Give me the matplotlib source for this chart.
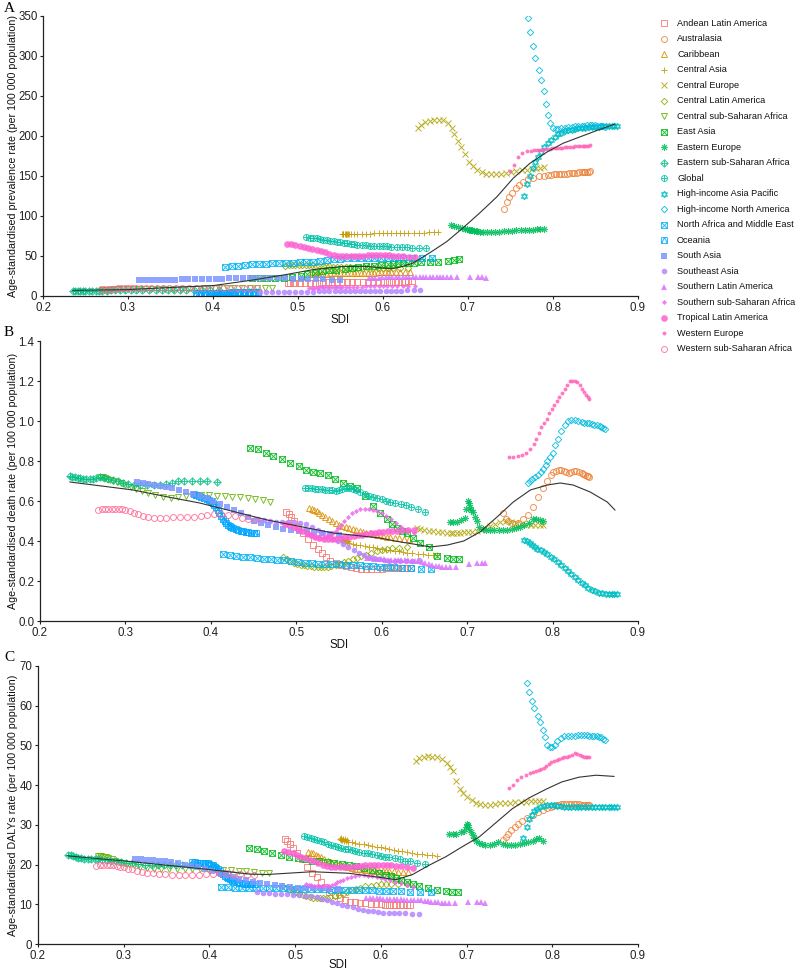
import numpy as np
import matplotlib
matplotlib.use("Agg")
import matplotlib.pyplot as plt
from matplotlib.path import Path
from matplotlib.lines import Line2D

plt.rcParams['font.family'] = ['Liberation Sans', 'DejaVu Sans']

# ---------------------------------------------------------------------------
# Data (SDI and rates, 1990-2019)
# ---------------------------------------------------------------------------
regions = ["Andean Latin America", "Australasia", "Caribbean", "Central Asia",
           "Central Europe", "Central Latin America", "Central sub-Saharan Africa",
           "East Asia", "Eastern Europe", "Eastern sub-Saharan Africa", "Global",
           "High-income Asia Pacific", "High-income North America",
           "North Africa and Middle East", "Oceania", "South Asia", "Southeast Asia",
           "Southern Latin America", "Southern sub-Saharan Africa",
           "Tropical Latin America", "Western Europe", "Western sub-Saharan Africa"]

sdi_andean = [0.488, 0.491, 0.494, 0.497, 0.502, 0.508, 0.514, 0.520, 0.525, 0.530,
              0.535, 0.540, 0.546, 0.552, 0.558, 0.564, 0.570, 0.576, 0.582, 0.588,
              0.594, 0.600, 0.605, 0.610, 0.614, 0.618, 0.622, 0.626, 0.630, 0.634]
prev_andean = [16, 16, 16, 16.2, 16.3, 16.5, 16.6, 16.7, 16.8, 17, 17, 17.2, 17.3, 17.4,
               17.5, 17.5, 17.6, 17.6, 17.7, 17.8, 17.8, 17.9, 17.9, 18, 18, 18, 18.1,
               18.1, 18.2, 18.2]
death_andean = [0.545, 0.535, 0.52, 0.50, 0.47, 0.44, 0.41, 0.38, 0.36, 0.34, 0.32, 0.30,
                0.29, 0.28, 0.275, 0.27, 0.265, 0.262, 0.26, 0.26, 0.262, 0.262, 0.263,
                0.263, 0.264, 0.265, 0.265, 0.266, 0.266, 0.265]
daly_andean = [26.5, 26, 25.2, 24.2, 23, 21.5, 19.5, 18, 16.8, 15.5, 14.3, 13.2, 12.4,
               11.6, 11, 10.7, 10.5, 10.3, 10.2, 10.1, 10, 10, 9.9, 9.9, 9.8, 9.8, 9.8,
               9.8, 9.8, 9.8]

sdi_austral = [0.742, 0.746, 0.748, 0.752, 0.756, 0.760, 0.765, 0.771, 0.777, 0.783,
               0.789, 0.794, 0.798, 0.801, 0.804, 0.807, 0.810, 0.813, 0.816, 0.819,
               0.822, 0.825, 0.828, 0.831, 0.834, 0.836, 0.838, 0.840, 0.842, 0.843]
prev_austral = [109, 118, 124, 129, 135, 139, 143, 146, 148, 150, 150.5, 151, 151.5, 152,
                152, 152.5, 152.5, 153, 153, 153.5, 153.5, 154, 154, 154.5, 154.5, 155,
                155, 155.5, 155.5, 156]
death_austral = [0.54, 0.51, 0.50, 0.49, 0.485, 0.49, 0.51, 0.53, 0.57, 0.62, 0.665, 0.70,
                 0.73, 0.745, 0.75, 0.755, 0.755, 0.75, 0.745, 0.74, 0.745, 0.75, 0.75,
                 0.745, 0.74, 0.735, 0.73, 0.725, 0.725, 0.72]
daly_austral = [26.2, 27, 27.8, 28.6, 29.4, 30.2, 31, 31.8, 32.5, 33.2, 33.8, 34.3, 34.6,
                34.8, 35, 35.1, 35.2, 35.2, 35.3, 35.3, 35.3, 35.3, 35.2, 35.2, 35.1,
                35.1, 35, 35, 35, 35]

sdi_carib = [0.515, 0.518, 0.521, 0.524, 0.527, 0.530, 0.534, 0.538, 0.542, 0.546,
             0.550, 0.554, 0.558, 0.562, 0.566, 0.570, 0.574, 0.578, 0.582, 0.586,
             0.590, 0.594, 0.598, 0.602, 0.606, 0.610, 0.615, 0.620, 0.626, 0.632]
prev_carib = [27, 27.2, 27.4, 27.6, 27.8, 28, 28, 28.2, 28.3, 28.4, 28.5, 28.6, 28.7, 28.8,
              28.9, 29, 29, 29.1, 29.2, 29.3, 29.3, 29.4, 29.4, 29.5, 29.5, 29.6, 29.6,
              29.7, 29.7, 29.8]
death_carib = [0.565, 0.56, 0.555, 0.55, 0.54, 0.53, 0.52, 0.51, 0.50, 0.49, 0.48, 0.475,
               0.47, 0.465, 0.46, 0.455, 0.45, 0.445, 0.44, 0.44, 0.435, 0.43, 0.43, 0.425,
               0.42, 0.42, 0.415, 0.415, 0.41, 0.41]
daly_carib = [23.2, 23, 22.8, 22.5, 22.2, 21.8, 21.4, 21, 20.6, 20.3, 20, 19.8, 19.6, 19.4,
              19.2, 19, 18.9, 18.8, 18.7, 18.6, 18.5, 18.5, 18.4, 18.4, 18.3, 18.3, 18.3,
              18.2, 18.2, 18.2]

sdi_casia = [0.560, 0.558, 0.556, 0.553, 0.552, 0.553, 0.555, 0.557, 0.559, 0.562,
             0.566, 0.570, 0.575, 0.580, 0.585, 0.590, 0.595, 0.600, 0.605, 0.610,
             0.615, 0.620, 0.625, 0.630, 0.636, 0.642, 0.648, 0.654, 0.660, 0.665]
prev_casia = [77, 77, 77, 77, 77, 77, 77, 77, 77.2, 77.4, 77.5, 77.7, 77.8, 78, 78.1, 78.2,
              78.3, 78.4, 78.5, 78.6, 78.7, 78.8, 78.9, 79, 79.1, 79.2, 79.3, 79.4, 79.5,
              79.6]
death_casia = [0.40, 0.40, 0.405, 0.405, 0.405, 0.405, 0.40, 0.40, 0.395, 0.39, 0.385,
               0.38, 0.38, 0.375, 0.37, 0.37, 0.365, 0.36, 0.355, 0.355, 0.35, 0.35, 0.345,
               0.34, 0.34, 0.335, 0.335, 0.33, 0.33, 0.33]
daly_casia = [26.2, 26.4, 26.5, 26.6, 26.4, 26.3, 26.2, 26, 25.9, 25.8, 25.6, 25.5, 25.3,
              25.1, 24.9, 24.7, 24.5, 24.3, 24.1, 23.9, 23.7, 23.5, 23.3, 23.1, 22.9, 22.7,
              22.6, 22.4, 22.3, 22.2]

sdi_ceur = [0.641, 0.645, 0.650, 0.655, 0.660, 0.666, 0.671, 0.677, 0.681, 0.684,
            0.688, 0.692, 0.696, 0.701, 0.706, 0.711, 0.716, 0.721, 0.727, 0.733,
            0.739, 0.745, 0.751, 0.757, 0.763, 0.769, 0.775, 0.780, 0.785, 0.789]
prev_ceur = [210, 214, 217, 219, 220, 220, 220, 216, 210, 203, 194, 186, 177, 168, 162,
             158, 155, 153, 152, 152, 153, 154, 155, 156, 157, 158, 159, 160, 160, 161]
death_ceur = [0.465, 0.46, 0.455, 0.45, 0.45, 0.445, 0.445, 0.44, 0.44, 0.44, 0.44, 0.44,
              0.445, 0.445, 0.445, 0.45, 0.455, 0.465, 0.475, 0.485, 0.495, 0.50, 0.495,
              0.49, 0.485, 0.48, 0.48, 0.48, 0.48, 0.48]
daly_ceur = [46.2, 46.8, 47.2, 47.3, 47.2, 47.1, 46.7, 45.5, 44.5, 43.5, 41, 39, 38, 37,
             36.3, 35.6, 35.2, 35, 35, 35.2, 35.4, 35.5, 35.6, 35.7, 35.8, 35.8, 35.9, 35.9,
             36, 36]

sdi_clat = [0.485, 0.489, 0.493, 0.497, 0.501, 0.505, 0.509, 0.513, 0.517, 0.521,
            0.525, 0.529, 0.533, 0.537, 0.541, 0.546, 0.551, 0.556, 0.561, 0.566,
            0.571, 0.576, 0.582, 0.588, 0.594, 0.600, 0.606, 0.612, 0.620, 0.630]
prev_clat = [38, 38.5, 39, 39, 39, 39, 38.8, 38.5, 38.2, 38, 37.8, 37.5, 37.2, 37, 36.8,
             36.5, 36.2, 36, 35.8, 35.6, 35.4, 35.2, 35, 35, 34.8, 34.8, 34.8, 34.8, 34.7,
             34.7]
death_clat = [0.32, 0.31, 0.30, 0.29, 0.285, 0.28, 0.278, 0.276, 0.274, 0.272, 0.27, 0.27,
              0.27, 0.272, 0.275, 0.28, 0.286, 0.293, 0.30, 0.308, 0.316, 0.324, 0.332,
              0.34, 0.348, 0.355, 0.36, 0.364, 0.367, 0.37]
daly_clat = [14.5, 14.1, 13.7, 13.3, 13, 12.7, 12.4, 12.1, 11.8, 11.6, 11.5, 11.5, 11.5,
             11.6, 11.8, 12, 12.3, 12.7, 13.1, 13.5, 13.9, 14.2, 14.5, 14.7, 14.9, 15, 15.1,
             15.1, 15.1, 15.1]

sdi_cssa = [0.270, 0.272, 0.274, 0.276, 0.279, 0.282, 0.286, 0.290, 0.295, 0.300,
            0.306, 0.312, 0.319, 0.327, 0.335, 0.344, 0.353, 0.362, 0.371, 0.380,
            0.389, 0.398, 0.407, 0.416, 0.425, 0.434, 0.443, 0.452, 0.461, 0.469]
prev_cssa = [8, 8, 8, 8, 8.1, 8.2, 8.2, 8.3, 8.4, 8.5, 8.6, 8.7, 8.8, 8.9, 9, 9, 9.1, 9.2,
             9.2, 9.3, 9.4, 9.4, 9.5, 9.6, 9.6, 9.7, 9.8, 9.9, 10, 10]
death_cssa = [0.72, 0.72, 0.72, 0.715, 0.71, 0.705, 0.70, 0.695, 0.69, 0.68, 0.67, 0.66,
              0.65, 0.64, 0.63, 0.62, 0.615, 0.62, 0.625, 0.63, 0.63, 0.63, 0.625, 0.625,
              0.62, 0.62, 0.615, 0.61, 0.605, 0.595]
daly_cssa = [22.2, 22.2, 22.1, 22, 21.8, 21.6, 21.3, 21, 20.7, 20.4, 20.1, 19.8, 19.5,
             19.2, 19, 18.8, 18.8, 18.9, 19, 19, 19, 18.9, 18.8, 18.7, 18.6, 18.5, 18.4,
             18.2, 18, 17.8]

sdi_easia = [0.446, 0.455, 0.464, 0.473, 0.483, 0.493, 0.503, 0.511, 0.520, 0.528,
             0.537, 0.545, 0.555, 0.563, 0.571, 0.580, 0.590, 0.598, 0.606, 0.612,
             0.618, 0.624, 0.630, 0.637, 0.645, 0.655, 0.665, 0.676, 0.683, 0.690]
prev_easia = [22.5, 22.5, 22.5, 22.5, 23, 23.5, 25, 27, 29, 31, 32, 33, 34, 35, 36, 37, 38,
              39, 40, 40.5, 41, 41, 41.5, 41.5, 42, 42, 42.5, 44, 45, 46]
death_easia = [0.865, 0.86, 0.84, 0.825, 0.81, 0.79, 0.775, 0.755, 0.745, 0.74, 0.73,
               0.71, 0.69, 0.675, 0.665, 0.625, 0.575, 0.54, 0.51, 0.485, 0.465, 0.45,
               0.44, 0.415, 0.39, 0.37, 0.325, 0.315, 0.31, 0.31]
daly_easia = [24.2, 23.8, 23.4, 23, 22.5, 22, 21.6, 21.3, 21, 20.8, 20.6, 20.4, 20.2, 20,
              19.6, 19.2, 18.6, 18, 17.4, 17, 16.5, 16, 15.6, 15.2, 14.7, 14.2, 13.7, 13.3,
              13.1, 13]

sdi_eeur = [0.680, 0.684, 0.688, 0.693, 0.697, 0.699, 0.701, 0.702, 0.703, 0.705,
            0.707, 0.709, 0.711, 0.714, 0.718, 0.722, 0.727, 0.732, 0.737, 0.742,
            0.747, 0.752, 0.757, 0.762, 0.767, 0.772, 0.777, 0.781, 0.785, 0.789]
prev_eeur = [89, 87, 86, 85, 84, 84, 83, 83, 82, 82, 81.5, 81, 81, 80.5, 80, 80, 80, 80,
             80.5, 81, 81, 81.5, 82, 82, 82.5, 83, 83, 83.5, 84, 84]
death_eeur = [0.495, 0.495, 0.495, 0.505, 0.515, 0.56, 0.60, 0.59, 0.57, 0.555, 0.545,
              0.52, 0.50, 0.47, 0.46, 0.455, 0.455, 0.455, 0.455, 0.455, 0.455, 0.46,
              0.465, 0.47, 0.48, 0.49, 0.51, 0.51, 0.505, 0.50]
daly_eeur = [27.8, 27.8, 27.8, 28.2, 28.5, 29.5, 30.2, 30, 29, 28.3, 27.5, 26.8, 26, 25.5,
             25.2, 25, 25, 25.3, 25.8, 25.2, 25, 25, 25, 25.2, 25.5, 25.8, 26, 26.5, 26.7,
             26]

sdi_essa = [0.235, 0.238, 0.241, 0.244, 0.247, 0.250, 0.254, 0.258, 0.262, 0.266,
            0.270, 0.275, 0.280, 0.285, 0.291, 0.297, 0.303, 0.310, 0.317, 0.325,
            0.333, 0.340, 0.347, 0.354, 0.361, 0.368, 0.378, 0.387, 0.396, 0.407]
prev_essa = [6.5, 6.5, 6.5, 6.6, 6.6, 6.6, 6.7, 6.7, 6.7, 6.8, 6.8, 6.8, 6.9, 6.9, 7, 7, 7,
             7.1, 7.1, 7.2, 7.2, 7.3, 7.3, 7.4, 7.4, 7.5, 7.5, 7.6, 7.6, 7.7]
death_essa = [0.725, 0.72, 0.72, 0.715, 0.715, 0.71, 0.71, 0.71, 0.71, 0.715, 0.72, 0.715,
              0.71, 0.705, 0.70, 0.69, 0.685, 0.68, 0.68, 0.68, 0.678, 0.68, 0.685, 0.69,
              0.70, 0.70, 0.70, 0.70, 0.70, 0.695]
daly_essa = [22.5, 22.3, 22.1, 21.9, 21.7, 21.6, 21.5, 21.4, 21.3, 21.3, 21.3, 21.2, 21.1,
             21, 20.9, 20.7, 20.5, 20.3, 20.1, 20, 19.9, 19.8, 19.8, 19.8, 19.8, 19.8, 19.8,
             19.8, 19.7, 19.6]

sdi_global = [0.510, 0.514, 0.518, 0.522, 0.526, 0.530, 0.534, 0.538, 0.542, 0.546,
              0.550, 0.554, 0.558, 0.562, 0.566, 0.570, 0.575, 0.580, 0.585, 0.590,
              0.595, 0.600, 0.605, 0.610, 0.616, 0.622, 0.628, 0.634, 0.642, 0.651]
prev_global = [73.5, 73, 72.5, 72, 71.3, 70.6, 70, 69.3, 68.6, 68, 67.3, 66.6, 66, 65.3,
               64.7, 64.2, 63.8, 63.4, 63, 62.7, 62.4, 62.2, 62, 61.7, 61.4, 61.1, 60.8,
               60.5, 60.2, 60]
death_global = [0.665, 0.665, 0.665, 0.66, 0.66, 0.66, 0.655, 0.655, 0.655, 0.65, 0.655,
                0.66, 0.665, 0.665, 0.66, 0.655, 0.645, 0.635, 0.625, 0.62, 0.615, 0.61,
                0.60, 0.595, 0.59, 0.585, 0.58, 0.57, 0.56, 0.545]
daly_global = [27.2, 27, 26.8, 26.5, 26.2, 25.9, 25.6, 25.3, 25, 24.7, 24.4, 24.2, 24,
               23.8, 23.6, 23.4, 23.2, 23, 22.8, 22.6, 22.4, 22.2, 22, 21.8, 21.6, 21.3,
               21, 20.8, 20.5, 20.2]

sdi_hiap = [0.766, 0.770, 0.773, 0.776, 0.779, 0.782, 0.786, 0.790, 0.794, 0.798,
            0.802, 0.806, 0.810, 0.814, 0.818, 0.822, 0.826, 0.830, 0.834, 0.838,
            0.842, 0.846, 0.850, 0.854, 0.858, 0.862, 0.866, 0.869, 0.872, 0.875]
prev_hiap = [125, 140, 150, 160, 168, 174, 180, 186, 191, 195, 199, 202, 204, 206, 207,
             208, 209, 209.5, 210, 210.5, 211, 211, 211.5, 211.5, 212, 212, 212, 212, 212,
             212]
death_hiap = [0.405, 0.40, 0.39, 0.38, 0.37, 0.36, 0.355, 0.345, 0.335, 0.322, 0.31,
              0.295, 0.28, 0.265, 0.25, 0.235, 0.22, 0.205, 0.19, 0.178, 0.165, 0.155,
              0.148, 0.142, 0.138, 0.135, 0.133, 0.133, 0.135, 0.137]
daly_hiap = [26.8, 29.5, 31.5, 32.5, 33.5, 34, 34.5, 34.8, 35, 35, 35, 34.8, 34.7, 34.6,
             34.5, 34.5, 34.5, 34.4, 34.4, 34.4, 34.4, 34.4, 34.4, 34.5, 34.5, 34.5, 34.5,
             34.6, 34.6, 34.6]

sdi_hina = [0.771, 0.773, 0.776, 0.779, 0.783, 0.786, 0.789, 0.792, 0.794, 0.797,
            0.800, 0.803, 0.806, 0.810, 0.814, 0.818, 0.822, 0.826, 0.830, 0.834,
            0.837, 0.840, 0.843, 0.846, 0.849, 0.852, 0.855, 0.857, 0.859, 0.861]
prev_hina = [347, 330, 313, 297, 282, 270, 256, 240, 226, 216, 210, 209, 209, 210, 210,
             211, 211, 212, 212, 213, 213, 214, 214, 214, 214, 213, 213, 212, 212, 211]
death_hina = [0.69, 0.70, 0.71, 0.72, 0.73, 0.745, 0.76, 0.78, 0.80, 0.82, 0.84, 0.88,
              0.91, 0.95, 0.98, 1.0, 1.005, 1.005, 1.0, 0.995, 0.99, 0.99, 0.99, 0.985,
              0.98, 0.98, 0.975, 0.97, 0.965, 0.96]
daly_hina = [65.8, 63.5, 61.2, 59.5, 57.5, 55.8, 54, 52.2, 50.2, 49.5, 49.7, 50, 51, 51.8,
             52.3, 52.4, 52.5, 52.5, 52.6, 52.7, 52.7, 52.6, 52.5, 52.5, 52.4, 52.3, 52.2,
             52, 51.7, 51.3]

sdi_name = [0.414, 0.422, 0.430, 0.438, 0.446, 0.454, 0.462, 0.470, 0.478, 0.486,
            0.494, 0.502, 0.510, 0.518, 0.526, 0.534, 0.542, 0.550, 0.558, 0.566,
            0.574, 0.582, 0.590, 0.598, 0.606, 0.614, 0.624, 0.634, 0.646, 0.658]
prev_name = [36, 37, 38, 39, 39.5, 40, 40.5, 41, 41, 41.5, 41.5, 42, 42.5, 43, 44, 45, 46,
             46.5, 47, 47, 47.2, 47.3, 47.4, 47.5, 47.5, 47.5, 47.5, 47.5, 47.5, 47.5]
death_name = [0.335, 0.33, 0.325, 0.32, 0.318, 0.315, 0.312, 0.31, 0.307, 0.305, 0.30,
              0.295, 0.29, 0.288, 0.286, 0.285, 0.284, 0.283, 0.282, 0.28, 0.278, 0.276,
              0.274, 0.272, 0.27, 0.268, 0.266, 0.264, 0.262, 0.26]
daly_name = [14.3, 14.3, 14.2, 14.2, 14.1, 14.1, 14, 14, 14, 14, 13.9, 13.9, 13.9, 13.8,
             13.8, 13.8, 13.7, 13.7, 13.7, 13.6, 13.6, 13.5, 13.5, 13.4, 13.4, 13.3, 13.3,
             13.2, 13.2, 13.2]

sdi_oce = [0.380, 0.383, 0.386, 0.389, 0.392, 0.395, 0.398, 0.400, 0.402, 0.404,
           0.406, 0.408, 0.410, 0.412, 0.414, 0.416, 0.418, 0.420, 0.422, 0.424,
           0.426, 0.429, 0.432, 0.435, 0.438, 0.441, 0.444, 0.447, 0.450, 0.453]
prev_oce = [4, 4, 4, 4, 4, 4, 4, 4, 4, 4, 4, 4, 4.2, 4.2, 4.2, 4.3, 4.3, 4.3, 4.4, 4.4,
            4.5, 4.5, 4.5, 4.6, 4.6, 4.6, 4.7, 4.7, 4.8, 4.8]
death_oce = [0.635, 0.63, 0.625, 0.62, 0.615, 0.61, 0.605, 0.60, 0.59, 0.58, 0.57, 0.555,
             0.54, 0.525, 0.51, 0.50, 0.49, 0.48, 0.475, 0.47, 0.465, 0.46, 0.455, 0.45,
             0.45, 0.445, 0.445, 0.44, 0.44, 0.44]
daly_oce = [20.7, 20.6, 20.5, 20.5, 20.4, 20.4, 20.3, 20.2, 20, 19.8, 19.5, 19.2, 18.8,
            18.4, 18, 17.6, 17.2, 16.9, 16.6, 16.3, 16, 15.8, 15.6, 15.4, 15.3, 15.2, 15.1,
            15, 15, 15]

sdi_sasia = [0.313, 0.320, 0.327, 0.334, 0.341, 0.348, 0.355, 0.363, 0.371, 0.379,
             0.387, 0.395, 0.403, 0.411, 0.419, 0.427, 0.435, 0.443, 0.451, 0.459,
             0.467, 0.476, 0.485, 0.494, 0.503, 0.512, 0.521, 0.530, 0.540, 0.550]
prev_sasia = [20, 20, 20, 20.2, 20.4, 20.5, 20.6, 20.8, 21, 21, 21.2, 21.4, 21.5, 21.7, 22,
              22, 22.2, 22.4, 22.5, 22.5, 22.5, 22.3, 22, 21.8, 21.5, 21.3, 21, 20.8, 20.5,
              20.3]
death_sasia = [0.695, 0.69, 0.685, 0.68, 0.675, 0.67, 0.665, 0.655, 0.645, 0.635, 0.625,
               0.615, 0.60, 0.585, 0.57, 0.555, 0.54, 0.52, 0.50, 0.49, 0.48, 0.47, 0.46,
               0.455, 0.45, 0.45, 0.445, 0.44, 0.435, 0.43]
daly_sasia = [21.5, 21.3, 21.2, 21.1, 21, 20.8, 20.6, 20.3, 20, 19.7, 19.3, 18.8, 18.3,
              17.8, 17.3, 16.8, 16.4, 16, 15.6, 15.3, 15, 14.8, 14.6, 14.4, 14.2, 14.1, 14,
              14, 13.9, 13.8]

sdi_seasia = [0.455, 0.462, 0.469, 0.476, 0.483, 0.490, 0.497, 0.504, 0.511, 0.518,
              0.525, 0.531, 0.537, 0.543, 0.549, 0.555, 0.561, 0.567, 0.573, 0.579,
              0.585, 0.591, 0.597, 0.603, 0.609, 0.615, 0.621, 0.628, 0.636, 0.644]
prev_seasia = [4.5, 4.6, 4.8, 5, 5.1, 5.2, 5.3, 5.4, 5.5, 5.6, 5.7, 5.8, 5.9, 6, 6, 6.1,
               6.2, 6.3, 6.3, 6.4, 6.5, 6.5, 6.6, 6.7, 6.7, 6.8, 6.8, 6.9, 6.9, 7]
death_seasia = [0.51, 0.505, 0.50, 0.495, 0.495, 0.495, 0.495, 0.49, 0.485, 0.47, 0.455,
                0.44, 0.425, 0.41, 0.40, 0.385, 0.37, 0.355, 0.34, 0.33, 0.32, 0.315, 0.31,
                0.305, 0.30, 0.30, 0.30, 0.30, 0.30, 0.305]
daly_seasia = [13, 12.9, 12.8, 12.7, 12.6, 12.5, 12.4, 12.3, 12.2, 12, 11.8, 11.4, 11,
               10.6, 10.2, 9.8, 9.5, 9.2, 8.9, 8.6, 8.4, 8.2, 8, 7.9, 7.8, 7.8, 7.7, 7.7,
               7.6, 7.6]

sdi_slat = [0.583, 0.587, 0.591, 0.595, 0.599, 0.603, 0.607, 0.611, 0.615, 0.619,
            0.623, 0.627, 0.631, 0.635, 0.639, 0.643, 0.647, 0.651, 0.655, 0.659,
            0.663, 0.667, 0.671, 0.675, 0.680, 0.687, 0.702, 0.712, 0.717, 0.721]
prev_slat = [22, 22.5, 23, 23, 23.5, 23.5, 24, 24, 24, 24, 24, 24, 24, 24, 24, 24, 24, 24,
             24, 24, 24, 24, 24, 24, 24, 24, 24, 24, 23.5, 22]
death_slat = [0.315, 0.315, 0.312, 0.31, 0.31, 0.308, 0.306, 0.305, 0.305, 0.305, 0.305,
              0.305, 0.303, 0.30, 0.30, 0.298, 0.295, 0.29, 0.285, 0.28, 0.276, 0.273,
              0.27, 0.27, 0.27, 0.272, 0.285, 0.29, 0.29, 0.288]
daly_slat = [11.5, 11.5, 11.5, 11.5, 11.5, 11.4, 11.4, 11.4, 11.3, 11.3, 11.3, 11.2, 11.2,
             11.1, 11.1, 11, 11, 10.9, 10.8, 10.7, 10.6, 10.5, 10.4, 10.4, 10.4, 10.4, 10.5,
             10.6, 10.5, 10.2]

sdi_sssa = [0.513, 0.516, 0.519, 0.522, 0.525, 0.528, 0.531, 0.534, 0.537, 0.540,
            0.543, 0.546, 0.549, 0.552, 0.556, 0.560, 0.565, 0.570, 0.575, 0.580,
            0.585, 0.590, 0.595, 0.600, 0.605, 0.611, 0.617, 0.623, 0.630, 0.638]
prev_sssa = [10.5, 10.5, 10.6, 10.6, 10.7, 10.7, 10.8, 10.8, 10.9, 11, 11, 11.1, 11.2,
             11.3, 11.4, 11.5, 11.6, 11.7, 11.8, 11.9, 12, 12, 12.1, 12.2, 12.2, 12.3,
             12.3, 12.4, 12.4, 12.5]
death_sssa = [0.43, 0.43, 0.425, 0.42, 0.42, 0.415, 0.415, 0.42, 0.425, 0.43, 0.44, 0.45,
              0.465, 0.48, 0.50, 0.52, 0.54, 0.55, 0.56, 0.56, 0.56, 0.555, 0.55, 0.54,
              0.525, 0.51, 0.49, 0.47, 0.455, 0.44]
daly_sssa = [15, 14.9, 14.8, 14.7, 14.6, 14.5, 14.5, 14.5, 14.6, 14.7, 14.9, 15.2, 15.5,
             15.8, 16.1, 16.5, 16.9, 17.2, 17.3, 17.3, 17.2, 17, 16.8, 16.6, 16.4, 16.1,
             15.7, 15.3, 14.8, 14.3]

sdi_tlat = [0.487, 0.492, 0.497, 0.502, 0.507, 0.512, 0.517, 0.522, 0.527, 0.532,
            0.537, 0.542, 0.547, 0.552, 0.557, 0.562, 0.567, 0.572, 0.577, 0.582,
            0.587, 0.592, 0.597, 0.602, 0.607, 0.612, 0.618, 0.624, 0.631, 0.638]
prev_tlat = [65.5, 64.5, 63.5, 62.5, 61.5, 60.5, 59, 57.5, 56, 54.5, 53, 51.5, 50.5, 50,
             50, 50, 50, 50.3, 50.6, 51, 51.3, 51.5, 51.5, 51.3, 51, 50.5, 50, 49.5, 49,
             48.5]
death_tlat = [0.485, 0.48, 0.47, 0.46, 0.45, 0.44, 0.43, 0.42, 0.415, 0.41, 0.41, 0.41,
              0.41, 0.415, 0.42, 0.42, 0.425, 0.43, 0.43, 0.435, 0.44, 0.44, 0.445, 0.445,
              0.45, 0.45, 0.45, 0.455, 0.455, 0.455]
daly_tlat = [23.5, 23.2, 22.8, 22.4, 22, 21.6, 21.2, 20.8, 20.4, 20, 19.7, 19.5, 19.4,
             19.4, 19.4, 19.5, 19.5, 19.6, 19.7, 19.8, 19.9, 20, 20, 20, 19.9, 19.8, 19.7,
             19.6, 19.4, 19.2]

sdi_weur = [0.749, 0.754, 0.759, 0.764, 0.769, 0.774, 0.778, 0.781, 0.784, 0.787,
            0.790, 0.793, 0.796, 0.799, 0.802, 0.805, 0.808, 0.811, 0.814, 0.817,
            0.820, 0.823, 0.826, 0.829, 0.832, 0.835, 0.837, 0.839, 0.841, 0.843]
prev_weur = [156, 164, 174, 179, 181, 181, 182, 182, 183, 183, 183.5, 184, 184, 184.5,
             185, 185, 185.5, 185.5, 186, 186, 186.5, 186.5, 187, 187, 187.5, 187.5, 188,
             188, 188, 188.5]
death_weur = [0.82, 0.82, 0.825, 0.83, 0.84, 0.86, 0.885, 0.91, 0.94, 0.97, 0.99, 1.01,
              1.04, 1.06, 1.08, 1.10, 1.12, 1.14, 1.16, 1.18, 1.20, 1.20, 1.20, 1.195,
              1.18, 1.16, 1.145, 1.13, 1.12, 1.11]
daly_weur = [39.2, 40, 41.2, 42, 42.5, 43, 43.3, 43.5, 43.8, 44, 44.3, 44.8, 45.4, 45.8,
             46.1, 46.3, 46.6, 46.8, 47, 47.2, 47.4, 47.7, 48, 47.8, 47.6, 47.4, 47.2,
             47.1, 47, 47]

sdi_wssa = [0.268, 0.272, 0.276, 0.280, 0.284, 0.288, 0.292, 0.296, 0.300, 0.305,
            0.310, 0.315, 0.321, 0.327, 0.334, 0.341, 0.348, 0.356, 0.364, 0.372,
            0.380, 0.388, 0.396, 0.404, 0.412, 0.420, 0.428, 0.436, 0.444, 0.452]
prev_wssa = [9, 9, 9, 9.2, 9.3, 9.4, 9.5, 9.5, 9.6, 9.7, 9.8, 9.8, 9.9, 10, 10, 10, 10.1,
             10.1, 10.2, 10.2, 10.3, 10.3, 10.3, 10.4, 10.4, 10.4, 10.5, 10.5, 10.5, 10.5]
death_wssa = [0.555, 0.56, 0.56, 0.562, 0.562, 0.562, 0.562, 0.56, 0.555, 0.55, 0.54,
              0.533, 0.525, 0.52, 0.515, 0.515, 0.517, 0.52, 0.52, 0.52, 0.52, 0.525,
              0.53, 0.535, 0.535, 0.53, 0.525, 0.515, 0.51, 0.505]
daly_wssa = [19.7, 19.8, 19.9, 19.9, 19.9, 19.8, 19.7, 19.5, 19.3, 19, 18.8, 18.5, 18.2,
             18, 17.8, 17.7, 17.6, 17.5, 17.5, 17.5, 17.5, 17.5, 17.6, 17.7, 17.8, 17.8,
             17.7, 17.6, 17.5, 17.4]

# smooth (loess) curves over all points
trend_prev_sdi = [0.235, 0.30, 0.337, 0.40, 0.447, 0.487, 0.518, 0.553, 0.581, 0.600,
                  0.610, 0.620, 0.635, 0.655, 0.675, 0.694, 0.714, 0.734, 0.753, 0.773,
                  0.793, 0.812, 0.832, 0.852, 0.873]
trend_prev_val = [7, 8, 10, 13, 20, 27, 33, 37, 37, 35, 34, 36, 41, 54, 68, 85, 104, 124,
                  147, 166, 180, 191, 199, 207, 215]
trend_death_sdi = [0.235, 0.309, 0.356, 0.387, 0.466, 0.543, 0.598, 0.622, 0.637, 0.657,
                   0.677, 0.696, 0.715, 0.735, 0.754, 0.774, 0.794, 0.809, 0.824, 0.844,
                   0.864, 0.873]
trend_death_val = [0.695, 0.655, 0.615, 0.59, 0.505, 0.44, 0.415, 0.395, 0.385, 0.37,
                   0.38, 0.40, 0.445, 0.52, 0.595, 0.655, 0.68, 0.69, 0.68, 0.645, 0.595,
                   0.555]
trend_daly_sdi = [0.234, 0.311, 0.389, 0.447, 0.467, 0.505, 0.520, 0.563, 0.598, 0.618,
                  0.637, 0.656, 0.676, 0.695, 0.715, 0.734, 0.753, 0.773, 0.793, 0.811,
                  0.831, 0.851, 0.872]
trend_daly_val = [22.2, 20.7, 19, 17.6, 17.5, 18, 18.2, 17.8, 16.8, 16.2, 17.5, 19.8, 22,
                  24.5, 27, 30.5, 34, 36.8, 39, 40.8, 42, 42.5, 42.2]

all_sdi = [sdi_andean, sdi_austral, sdi_carib, sdi_casia, sdi_ceur, sdi_clat, sdi_cssa,
           sdi_easia, sdi_eeur, sdi_essa, sdi_global, sdi_hiap, sdi_hina, sdi_name,
           sdi_oce, sdi_sasia, sdi_seasia, sdi_slat, sdi_sssa, sdi_tlat, sdi_weur, sdi_wssa]
all_prev = [prev_andean, prev_austral, prev_carib, prev_casia, prev_ceur, prev_clat,
            prev_cssa, prev_easia, prev_eeur, prev_essa, prev_global, prev_hiap, prev_hina,
            prev_name, prev_oce, prev_sasia, prev_seasia, prev_slat, prev_sssa, prev_tlat,
            prev_weur, prev_wssa]
all_death = [death_andean, death_austral, death_carib, death_casia, death_ceur,
             death_clat, death_cssa, death_easia, death_eeur, death_essa, death_global,
             death_hiap, death_hina, death_name, death_oce, death_sasia, death_seasia,
             death_slat, death_sssa, death_tlat, death_weur, death_wssa]
all_daly = [daly_andean, daly_austral, daly_carib, daly_casia, daly_ceur, daly_clat,
            daly_cssa, daly_easia, daly_eeur, daly_essa, daly_global, daly_hiap, daly_hina,
            daly_name, daly_oce, daly_sasia, daly_seasia, daly_slat, daly_sssa, daly_tlat,
            daly_weur, daly_wssa]


# ---------------------------------------------------------------------------
# ggplot-like hue palette and shapes
# ---------------------------------------------------------------------------
def hcl(h, c=100.0, l=65.0):
    h = np.deg2rad(h)
    u, v = c * np.cos(h), c * np.sin(h)
    xn, yn, zn = 95.047, 100.0, 108.883
    un = 4 * xn / (xn + 15 * yn + 3 * zn)
    vn = 9 * yn / (xn + 15 * yn + 3 * zn)
    y = yn * ((l + 16) / 116) ** 3
    up = u / (13 * l) + un
    vp = v / (13 * l) + vn
    x = y * 9 * up / (4 * vp)
    z = y * (12 - 3 * up - 20 * vp) / (4 * vp)
    m = np.array([[3.2404542, -1.5371385, -0.4985314],
                  [-0.9692660, 1.8760108, 0.0415560],
                  [0.0556434, -0.2040259, 1.0572252]])
    rgb = m @ (np.array([x, y, z]) / 100)
    rgb = np.where(rgb <= 0.0031308, 12.92 * rgb, 1.055 * np.clip(rgb, 0, None) ** (1 / 2.4) - 0.055)
    return tuple(np.clip(rgb, 0, 1))


n = len(regions)
colors = [hcl(15 + i * 360 / n) for i in range(n)]


def compound(*parts):
    verts, codes = [], []
    for pts in parts:
        verts += pts
        codes += [Path.MOVETO] + [Path.LINETO] * (len(pts) - 1)
    return Path(verts, codes)


sq = [(-1, -1), (1, -1), (1, 1), (-1, 1), (-1, -1)]
dia = [(0, -1), (1, 0), (0, 1), (-1, 0), (0, -1)]
t = np.linspace(0, 2 * np.pi, 33)
circ = list(zip(np.cos(t), np.sin(t)))
sq_x = compound(sq, [(-1, -1), (1, 1)], [(-1, 1), (1, -1)])
dia_plus = compound(dia, [(0, -1), (0, 1)], [(-1, 0), (1, 0)])
circ_plus = compound(circ, [(0, -1), (0, 1)], [(-1, 0), (1, 0)])
david = compound([(0, 1), (-0.866, -0.5), (0.866, -0.5), (0, 1)],
                 [(0, -1), (-0.866, 0.5), (0.866, 0.5), (0, -1)])
sq_tri = compound(sq, [(-1, -1), (0, 1), (1, -1)])

# (marker, size, filled)
shapes = [('s', 4.0, False), ('o', 4.3, False), ('^', 4.5, False), ('+', 5.0, None),
          ('x', 4.0, None), ('D', 3.3, False), ('v', 4.5, False), (sq_x, 4.2, False),
          ((8, 2, 0), 5.0, None), (dia_plus, 5.2, False), (circ_plus, 4.3, False),
          (david, 5.0, False), ('D', 3.3, False), (sq_x, 4.2, False), (sq_tri, 4.2, False),
          ('s', 4.0, True), ('o', 4.0, True), ('^', 4.3, True), ('D', 2.6, True),
          ('o', 4.8, True), ('o', 2.8, True), ('o', 4.3, False)]


def style(i):
    mk, ms, filled = shapes[i]
    kw = dict(marker=mk, markersize=ms, linestyle='none', alpha=0.85)
    if filled is True:
        kw.update(markerfacecolor=colors[i], markeredgecolor=colors[i], markeredgewidth=0)
    elif filled is False:
        kw.update(markerfacecolor='none', markeredgecolor=colors[i], markeredgewidth=0.7)
    else:
        kw.update(color=colors[i], markeredgewidth=0.7)
    return kw


# ---------------------------------------------------------------------------
# Figure
# ---------------------------------------------------------------------------
W, H = 797, 971
fig = plt.figure(figsize=(W / 100, H / 100), dpi=100)


def add_axes(left, top, bottom, right=638):
    return fig.add_axes([left / W, 1 - bottom / H, (right - left) / W, (bottom - top) / H])


panels = [
    (add_axes(43, 16, 296), all_prev, (0, 350), np.arange(0, 351, 50), '{:.0f}',
     'Age-standardised prevalence rate (per 100 000 population)',
     trend_prev_sdi, trend_prev_val, 'A', 8, 0),
    (add_axes(40, 341, 621), all_death, (0, 1.4), np.arange(0, 1.41, 0.2), '{:.1f}',
     'Age-standardised death rate (per 100 000 population)',
     trend_death_sdi, trend_death_val, 'B', 332, 0),
    (add_axes(38, 666, 944), all_daly, (0, 70), np.arange(0, 71, 10), '{:.0f}',
     'Age-standardised DALYs rate (per 100 000 population)',
     trend_daly_sdi, trend_daly_val, 'C', 657, -1.5),
]

for ax, vals, ylim, yticks, fmt, ylabel, tx, ty, letter, ly, xpad in panels:
    for i in range(n):
        ax.plot(all_sdi[i], vals[i], **style(i))
    ax.plot(tx, ty, color='#333333', lw=0.8, zorder=5)
    ax.set_xlim(0.2, 0.9)
    ax.set_ylim(*ylim)
    ax.set_xticks(np.arange(0.2, 0.91, 0.1))
    ax.set_xticklabels(['{:.1f}'.format(v) for v in np.arange(0.2, 0.91, 0.1)])
    ax.set_yticks(yticks)
    ax.set_yticklabels([fmt.format(v) for v in yticks])
    for s in ('top', 'right'):
        ax.spines[s].set_visible(False)
    for s in ('left', 'bottom'):
        ax.spines[s].set_linewidth(0.9)
        ax.spines[s].set_color('#222222')
        ax.spines[s].set_clip_on(False)
    ax.tick_params(length=2.5, width=0.8, pad=1.5, labelsize=8.3, colors='#222222')
    ax.set_xlabel('SDI', fontsize=8.3, labelpad=xpad, color='#111111')
    ax.set_ylabel(ylabel, fontsize=7.7, color='#111111')
    pos = ax.get_position()
    ax.yaxis.set_label_coords((18 / W - pos.x0) / pos.width, 0.5)
    fig.text(4 / W, 1 - ly / H, letter, family=['Liberation Serif', 'DejaVu Serif'],
             fontsize=11, va='center', ha='left')

# legend drawn row by row, outside the panels on the right
for i, name in enumerate(regions):
    y = 1 - (23 + i * 15.52) / H
    fig.add_artist(Line2D([664 / W], [y], transform=fig.transFigure, **style(i)))
    fig.text(677 / W, y, name, fontsize=6.6, va='center', ha='left', color='#111111')

fig.savefig('out.png', dpi=100)
